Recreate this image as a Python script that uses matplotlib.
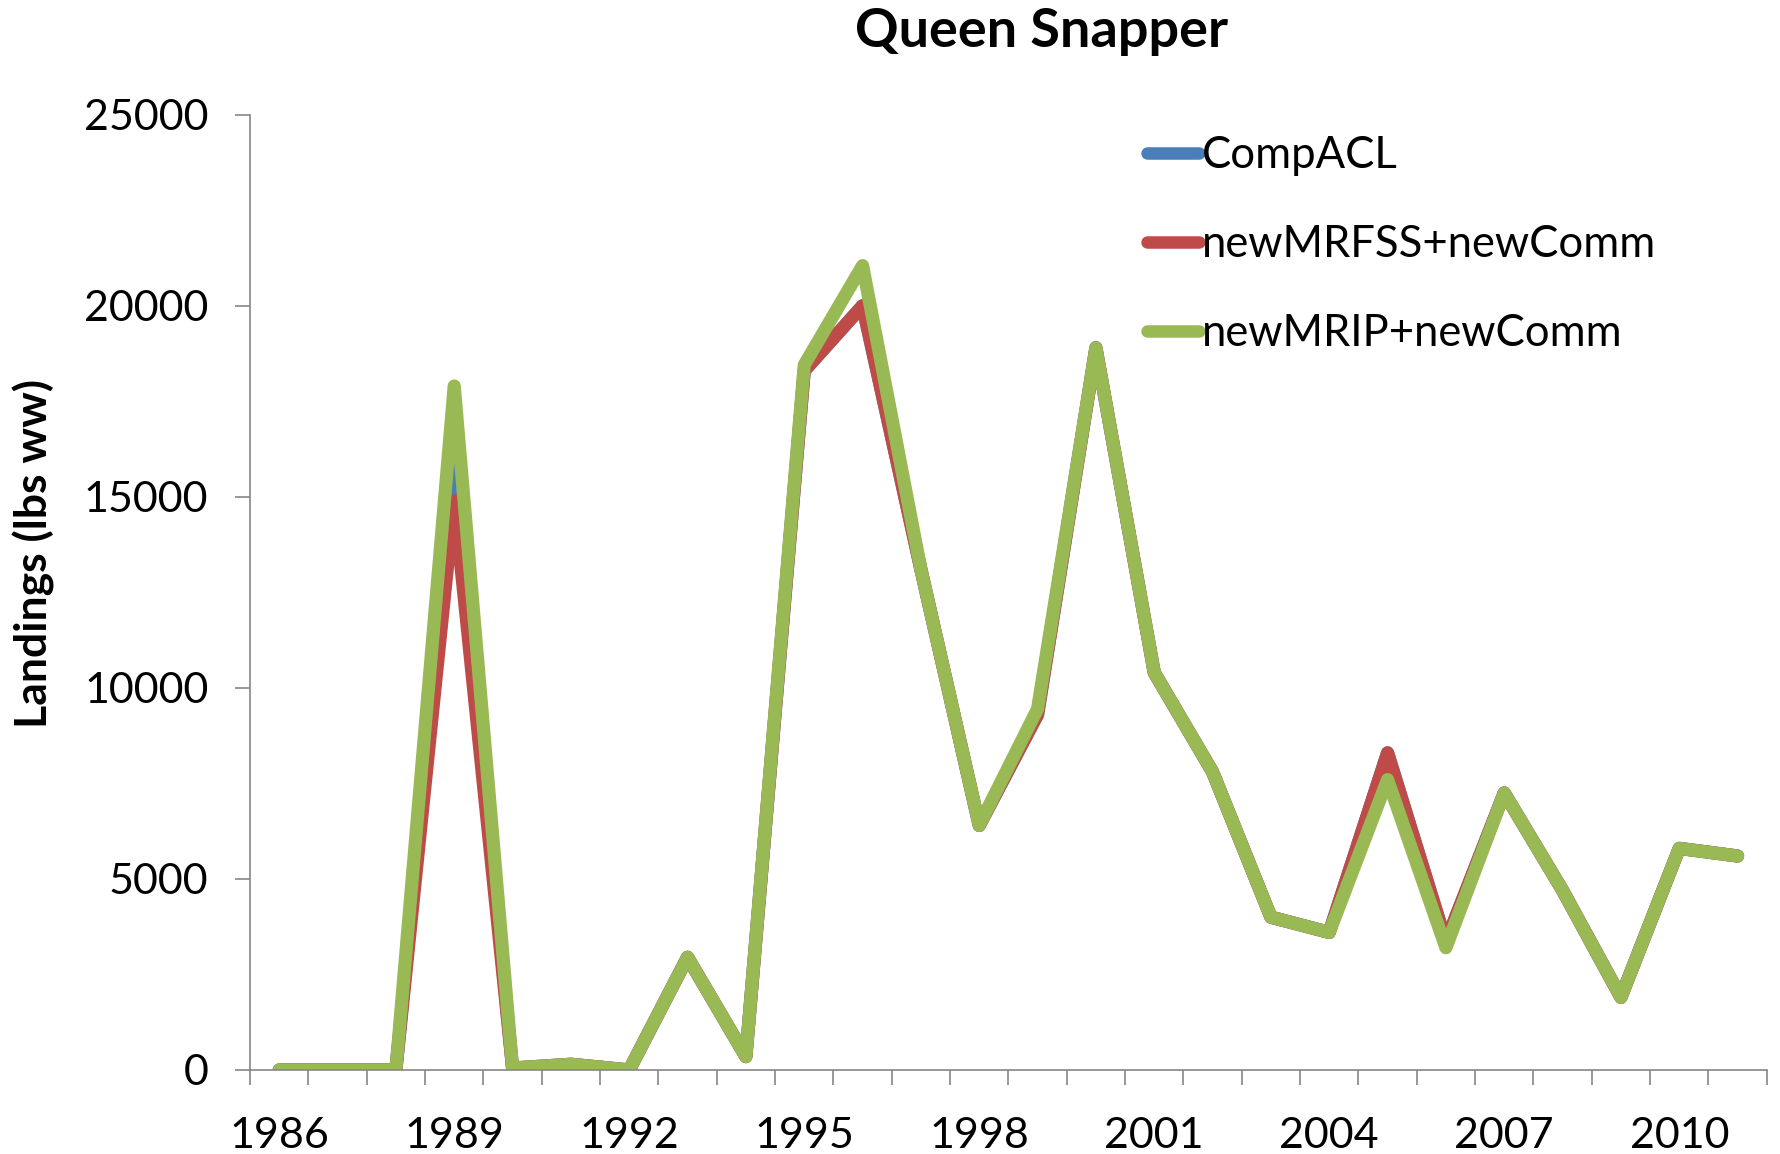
import matplotlib
matplotlib.use('Agg')
import matplotlib.pyplot as plt
import numpy as np

# ── Data ──────────────────────────────────────────────────────────────────────
years = list(range(1986, 2012))
comp_acl = [0, 0, 0, 15800, 50, 150, 0, 2950, 350, 18300, 20000, 13100,
            6400, 9300, 18900, 10400, 7800, 4000, 3600, 8300, 3350, 7250,
            4700, 1900, 5800, 5600]
mrfss_comm = [0, 0, 0, 14900, 50, 150, 0, 2950, 350, 18300, 20000, 13100,
              6400, 9300, 18900, 10400, 7800, 4000, 3600, 8300, 3350, 7250,
              4700, 1900, 5800, 5600]
mrip_comm = [0, 0, 0, 17900, 50, 150, 0, 2950, 350, 18450, 21050, 13100,
             6400, 9450, 18900, 10400, 7800, 4000, 3600, 7600, 3200, 7250,
             4700, 1900, 5800, 5600]
series_names = ['CompACL', 'newMRFSS+newComm', 'newMRIP+newComm']
COLORS = ['#4A7EBB', '#BE4B48', '#98B954']

plt.rcParams['font.family'] = ['Lato', 'DejaVu Sans']

fig = plt.figure(figsize=(17.81, 11.54), dpi=100)
ax = fig.add_axes([0.1404, 0.0728, 0.992 - 0.1404, 0.9006 - 0.0728])

x = np.arange(len(years))
for vals, name, col in zip([comp_acl, mrfss_comm, mrip_comm], series_names, COLORS):
    ax.plot(x, vals, color=col, linewidth=9.5, label=name,
            solid_capstyle='round', solid_joinstyle='round')

ax.set_xlim(-0.5, len(years) - 0.5)
ax.set_ylim(0, 25000)
ax.set_yticks(np.arange(0, 25001, 5000))
ax.tick_params(axis='y', labelsize=31, length=11, width=1.2, color='#868686', pad=19)

# category axis: ticks at boundaries, labels every 3rd category
ax.set_xticks(np.arange(-0.5, len(years)), minor=False)
ax.set_xticklabels([])
ax.set_xticks(x[::3], minor=True)
ax.set_xticklabels([str(y) for y in years[::3]], minor=True)
ax.tick_params(axis='x', which='major', length=11, width=1.2, color='#868686')
ax.tick_params(axis='x', which='minor', length=0, labelsize=31, pad=34)

for s in ['top', 'right']:
    ax.spines[s].set_visible(False)
for s in ['left', 'bottom']:
    ax.spines[s].set_color('#868686')
    ax.spines[s].set_linewidth(1.2)

fig.text(0.0191, 0.52, 'Landings (lbs ww)', rotation=90, ha='center', va='center',
         fontsize=32, fontweight='bold')
fig.text(0.585, 0.973, 'Queen Snapper', ha='center', va='center',
         fontsize=39, fontweight='bold')

leg = ax.legend(loc='upper left', bbox_to_anchor=(0.622, 0.917), bbox_transform=fig.transFigure,
                frameon=False, fontsize=31.4, handlelength=1.2, handletextpad=0.05,
                labelspacing=1.1)
for h in leg.get_lines():
    h.set_linewidth(9)
    h.set_solid_capstyle('round')

fig.savefig('out.png', dpi=100)
